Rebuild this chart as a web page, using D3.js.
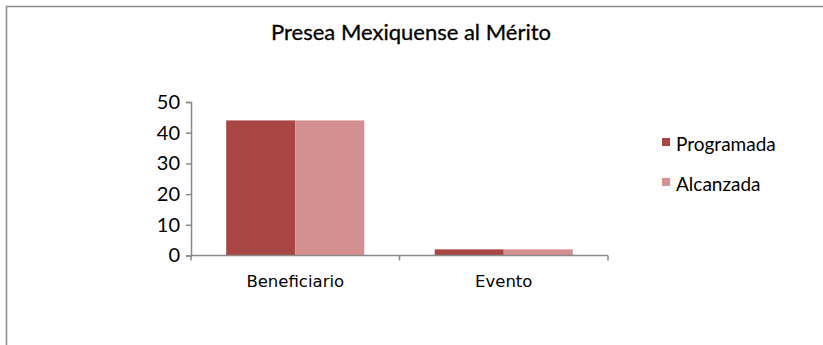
<!DOCTYPE html>
<html>
<head>
<meta charset="utf-8">
<script src="https://cdn.jsdelivr.net/npm/d3@7/dist/d3.min.js"></script>
<style>
  html, body { margin: 0; padding: 0; background: #fff; }
  svg { display: block; }
</style>
</head>
<body>
<script>
// Chart data
const title = "Presea Mexiquense al Mérito";
const categories = ["Beneficiario", "Evento"];
const seriesNames = ["Programada", "Alcanzada"];
const programada = [44, 2];
const alcanzada = [44, 2];
const yTicks = [0, 10, 20, 30, 40, 50];

const W = 823, H = 345;
const colors = ["#A84644", "#D49090"];
const axisColor = "#8A8A8A";
const mainFont = "Lato, 'Open Sans', sans-serif";

const svg = d3.select("body").append("svg")
  .attr("width", W).attr("height", H);

// Outer frame (top and left edges visible)
svg.append("path")
  .attr("d", `M6.5,${H} L6.5,6.5 L${W},6.5`)
  .attr("fill", "none").attr("stroke", "#8C8C8C").attr("stroke-width", 1.5);

// Title
svg.append("text")
  .attr("x", 411).attr("y", 40)
  .attr("text-anchor", "middle")
  .attr("font-family", mainFont)
  .attr("font-size", 22).attr("fill", "#000")
  .attr("stroke", "#000").attr("stroke-width", 0.3)
  .text(title);

const plot = { left: 191, right: 608, top: 102, bottom: 255.5 };

const x = d3.scaleBand().domain(categories)
  .range([plot.left, plot.right]).paddingInner(0).paddingOuter(0);
const xs = d3.scaleBand().domain(seriesNames)
  .range([0, x.bandwidth()]).paddingInner(0).paddingOuter(0.51);
const y = d3.scaleLinear().domain([0, 50]).range([plot.bottom, plot.top]);

const data = categories.map((c, i) => ({ cat: c, vals: [programada[i], alcanzada[i]] }));

// Bars
const groups = svg.append("g").selectAll("g").data(data).join("g")
  .attr("transform", d => `translate(${x(d.cat)},0)`);
groups.selectAll("rect")
  .data(d => d.vals.map((v, j) => ({ name: seriesNames[j], v, j })))
  .join("rect")
  .attr("x", d => xs(d.name))
  .attr("width", xs.bandwidth())
  .attr("y", d => y(d.v))
  .attr("height", d => plot.bottom - y(d.v))
  .attr("fill", d => colors[d.j]);

// Y axis
const yAxis = svg.append("g")
  .attr("transform", `translate(${plot.left},0)`)
  .call(d3.axisLeft(y).tickValues(yTicks).tickSize(5).tickPadding(6));
yAxis.select(".domain").attr("stroke", axisColor).attr("stroke-width", 1.5);
yAxis.selectAll(".tick line").attr("stroke", axisColor).attr("stroke-width", 1.5);
yAxis.selectAll(".tick text")
  .attr("font-family", mainFont)
  .attr("font-size", 20).attr("fill", "#000");

// X axis with ticks at band boundaries
const xAxisG = svg.append("g").attr("transform", `translate(0,${plot.bottom})`);
xAxisG.append("line")
  .attr("x1", plot.left).attr("x2", plot.right)
  .attr("stroke", axisColor).attr("stroke-width", 1.5);
const bounds = categories.map(c => x(c)).concat([x(categories[categories.length - 1]) + x.bandwidth()]);
xAxisG.selectAll("line.tk").data(bounds).join("line")
  .attr("class", "tk")
  .attr("x1", d => d).attr("x2", d => d)
  .attr("y1", 0).attr("y2", 5)
  .attr("stroke", axisColor).attr("stroke-width", 1.5);
xAxisG.selectAll("text").data(categories).join("text")
  .attr("x", d => x(d) + x.bandwidth() / 2)
  .attr("y", 31)
  .attr("text-anchor", "middle")
  .attr("font-family", "'DejaVu Sans', sans-serif")
  .attr("font-size", 16.5).attr("fill", "#000")
  .text(d => d);

// Legend
const legend = svg.append("g");
const legendItems = legend.selectAll("g").data(seriesNames).join("g")
  .attr("transform", (d, i) => `translate(662,${138 + i * 40})`);
legendItems.append("rect")
  .attr("width", 8).attr("height", 8)
  .attr("fill", (d, i) => colors[i]);
legendItems.append("text")
  .attr("x", 14).attr("y", 13)
  .attr("font-family", mainFont)
  .attr("font-size", 19).attr("fill", "#000")
  .text(d => d);
</script>
</body>
</html>
